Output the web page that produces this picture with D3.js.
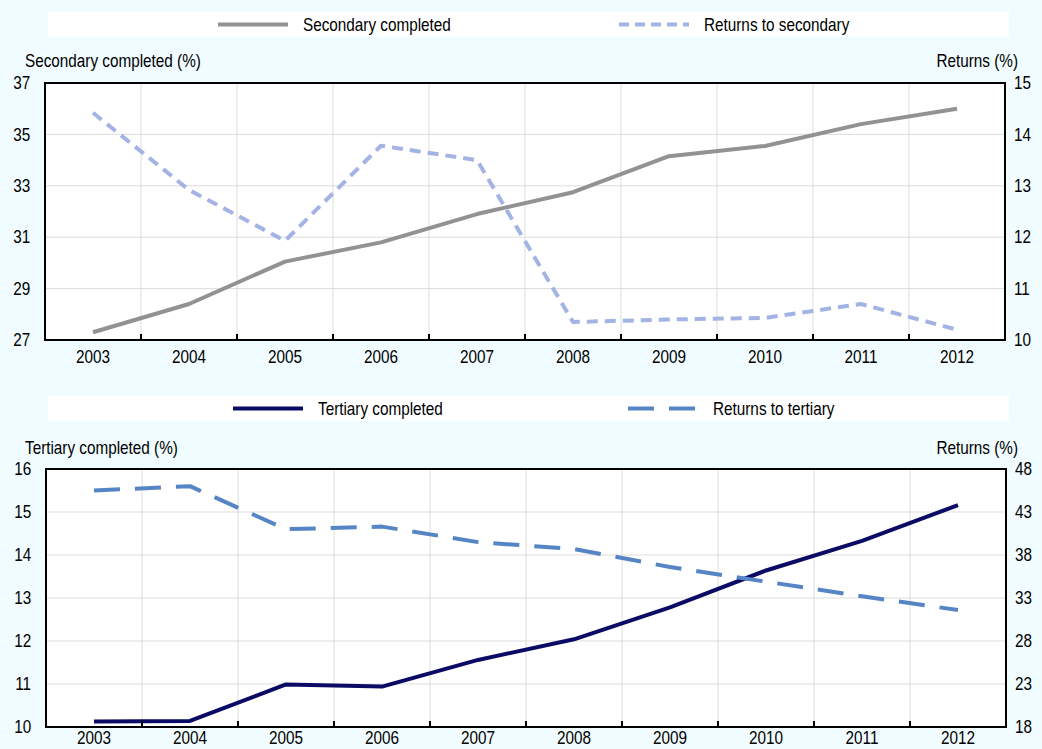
<!DOCTYPE html>
<html>
<head>
<meta charset="utf-8">
<script src="https://cdn.jsdelivr.net/npm/d3@7/dist/d3.min.js"></script>
<style>
  html, body { margin: 0; padding: 0; background: #f0fcff; }
  svg { display: block; font-family: "Liberation Sans", Arial, sans-serif; }
</style>
</head>
<body>
<svg id="chart" width="1042" height="749"></svg>
<script>
// Years on the shared category axis
const years = ["2003","2004","2005","2006","2007","2008","2009","2010","2011","2012"];

// Upper panel: share with completed secondary education and returns to secondary
const secondaryCompleted = [27.3, 28.4, 30.05, 30.8, 31.9, 32.75, 34.15, 34.55, 35.4, 36.0];
const returnsSecondary   = [14.42, 12.92, 11.93, 13.78, 13.5, 10.35, 10.4, 10.43, 10.7, 10.2];
const secLeftTicks  = [27, 29, 31, 33, 35, 37];
const secRightTicks = [10, 11, 12, 13, 14, 15];

// Lower panel: share with completed tertiary education and returns to tertiary
const tertiaryCompleted = [10.13, 10.14, 10.99, 10.94, 11.56, 12.04, 12.78, 13.64, 14.33, 15.16];
const returnsTertiary   = [45.5, 46.0, 41.0, 41.3, 39.5, 38.7, 36.6, 34.9, 33.2, 31.6];
const terLeftTicks  = [10, 11, 12, 13, 14, 15, 16];
const terRightTicks = [18, 23, 28, 33, 38, 43, 48];

const FONT_SIZE = 18;
const NARROW = 0.85;   // horizontal squeeze for a condensed look

const svg = d3.select("#chart");

// place a condensed text label at (x, y)
function label(g, x, y, str, anchor) {
  return g.append("text")
    .attr("transform", `translate(${x},${y}) scale(${NARROW},1)`)
    .attr("font-size", FONT_SIZE).attr("fill", "#000")
    .attr("text-anchor", anchor || "start")
    .text(str);
}

function styleAxisText(sel) {
  sel.selectAll("text")
    .attr("font-size", FONT_SIZE).attr("fill", "#000")
    .attr("font-family", "Liberation Sans, Arial, sans-serif")
    .attr("transform", `scale(${NARROW},1)`);
}

function panel(cfg) {
  const g = svg.append("g");
  const x = d3.scaleBand().domain(years).range([cfg.left, cfg.right]);
  const yL = d3.scaleLinear().domain(d3.extent(cfg.leftTicks)).range([cfg.bottom, cfg.top]);
  const yR = d3.scaleLinear().domain(d3.extent(cfg.rightTicks)).range([cfg.bottom, cfg.top]);

  // legend strip
  g.append("rect").attr("x", 48).attr("y", cfg.legendY - 12).attr("width", 961).attr("height", 25)
    .attr("fill", "#ffffff");
  cfg.series.forEach(s => {
    g.append("line").attr("x1", s.lx).attr("x2", s.lx + 70)
      .attr("y1", cfg.legendY + 0.5).attr("y2", cfg.legendY + 0.5)
      .attr("stroke", s.color).attr("stroke-width", 4)
      .attr("stroke-dasharray", s.legendDash || null);
    label(g, s.lx + 85, cfg.legendY + 6.5, s.name);
  });

  // plot area
  g.append("rect").attr("x", cfg.left).attr("y", cfg.top)
    .attr("width", cfg.right - cfg.left).attr("height", cfg.bottom - cfg.top)
    .attr("fill", "#ffffff");

  // horizontal grid
  g.append("g").selectAll("line").data(cfg.leftTicks.slice(1, -1)).join("line")
    .attr("x1", cfg.left).attr("x2", cfg.right)
    .attr("y1", d => yL(d)).attr("y2", d => yL(d))
    .attr("stroke", "#dddddd").attr("stroke-width", 1);
  // vertical grid at category boundaries
  const bounds = years.slice(1).map(d => x(d));
  g.append("g").selectAll("line").data(bounds).join("line")
    .attr("x1", d => d).attr("x2", d => d)
    .attr("y1", cfg.top).attr("y2", cfg.bottom)
    .attr("stroke", "#dddddd").attr("stroke-width", 1);

  // series
  cfg.series.forEach(s => {
    const yS = s.axis === "left" ? yL : yR;
    const line = d3.line().x((d, i) => x(years[i]) + x.bandwidth() / 2).y(d => yS(d));
    g.append("path").datum(s.values).attr("d", line)
      .attr("fill", "none").attr("stroke", s.color).attr("stroke-width", 4)
      .attr("stroke-linejoin", "round")
      .attr("stroke-dasharray", s.dash || null);
  });

  // frame
  g.append("rect").attr("x", cfg.left).attr("y", cfg.top)
    .attr("width", cfg.right - cfg.left).attr("height", cfg.bottom - cfg.top)
    .attr("fill", "none").attr("stroke", "#000").attr("stroke-width", 2);

  // x axis: labels centred on bands, ticks at band boundaries pointing inward
  const xa = g.append("g").attr("transform", `translate(0,${cfg.bottom})`)
    .call(d3.axisBottom(x).tickSize(0).tickPadding(cfg.xPad));
  xa.select(".domain").remove();
  styleAxisText(xa);
  g.append("g").selectAll("line").data(bounds).join("line")
    .attr("x1", d => d).attr("x2", d => d)
    .attr("y1", cfg.bottom).attr("y2", cfg.bottom - 6)
    .attr("stroke", "#000").attr("stroke-width", 2);

  // left axis labels
  const la = g.append("g").attr("transform", `translate(${cfg.left},0)`)
    .call(d3.axisLeft(yL).tickValues(cfg.leftTicks).tickFormat(d3.format("d"))
      .tickSize(0).tickPadding(17.5));
  la.select(".domain").remove();
  styleAxisText(la);

  // right axis labels
  const ra = g.append("g").attr("transform", `translate(${cfg.right},0)`)
    .call(d3.axisRight(yR).tickValues(cfg.rightTicks).tickFormat(d3.format("d"))
      .tickSize(0).tickPadding(10.5));
  ra.select(".domain").remove();
  styleAxisText(ra);

  // axis titles
  label(g, 25, cfg.top - cfg.titleGap, cfg.leftTitle);
  label(g, 1018, cfg.top - cfg.titleGap, "Returns (%)", "end");
}

panel({
  left: 45, right: 1005, top: 83, bottom: 340, legendY: 24, xPad: 10, titleGap: 16.5,
  leftTicks: secLeftTicks, rightTicks: secRightTicks,
  leftTitle: "Secondary completed (%)",
  series: [
    { name: "Secondary completed", values: secondaryCompleted, axis: "left",
      color: "#929292", lx: 218 },
    { name: "Returns to secondary", values: returnsSecondary, axis: "right",
      color: "#a3b3e3", dash: "11,7", legendDash: "10,6", lx: 619 }
  ]
});

panel({
  left: 46, right: 1006, top: 469, bottom: 727, legendY: 408, xPad: 4.5, titleGap: 15,
  leftTicks: terLeftTicks, rightTicks: terRightTicks,
  leftTitle: "Tertiary completed (%)",
  series: [
    { name: "Tertiary completed", values: tertiaryCompleted, axis: "left",
      color: "#0b0b66", lx: 233 },
    { name: "Returns to tertiary", values: returnsTertiary, axis: "right",
      color: "#5585c4", dash: "26,15", legendDash: "26,15", lx: 628 }
  ]
});
</script>
</body>
</html>
